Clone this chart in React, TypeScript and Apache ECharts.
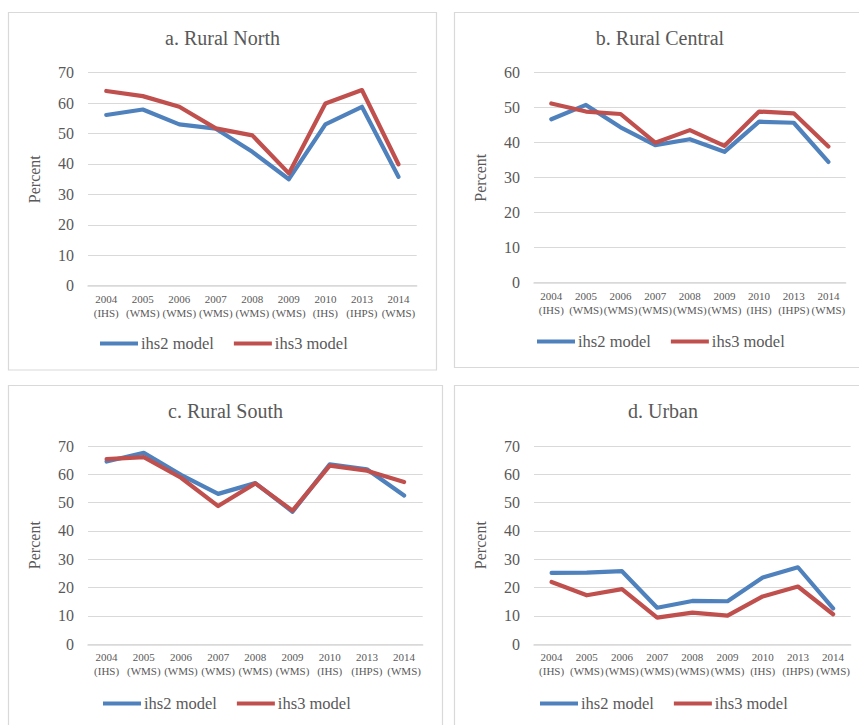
import React, { useEffect, useRef } from "react";
import * as echarts from "echarts";

const categories = [
  "2004\n(IHS)",
  "2005\n(WMS)",
  "2006\n(WMS)",
  "2007\n(WMS)",
  "2008\n(WMS)",
  "2009\n(WMS)",
  "2010\n(IHS)",
  "2013\n(IHPS)",
  "2014\n(WMS)",
];

const panelTitles = ["a. Rural North", "b. Rural Central", "c. Rural South", "d. Urban"];
const seriesNames = ["ihs2 model", "ihs3 model"];

const northIhs2 = [56.1, 57.9, 53.0, 51.6, 44.0, 35.0, 53.0, 58.8, 35.8];
const northIhs3 = [64.0, 62.3, 58.8, 51.7, 49.4, 36.9, 59.9, 64.3, 39.9];

const centralIhs2 = [46.7, 50.8, 44.4, 39.3, 41.0, 37.4, 46.0, 45.7, 34.5];
const centralIhs3 = [51.2, 48.9, 48.2, 40.0, 43.6, 39.1, 48.9, 48.4, 38.9];

const southIhs2 = [64.5, 67.6, 59.8, 53.1, 56.9, 46.8, 63.5, 61.8, 52.5];
const southIhs3 = [65.4, 66.1, 58.8, 48.8, 56.8, 47.2, 63.1, 61.3, 57.3];

const urbanIhs2 = [25.2, 25.3, 25.8, 12.9, 15.3, 15.2, 23.6, 27.2, 12.7];
const urbanIhs3 = [22.0, 17.3, 19.5, 9.4, 11.2, 10.1, 16.9, 20.4, 10.6];

const yMax = [70, 60, 70, 70];

const panelData = [
  [northIhs2, northIhs3],
  [centralIhs2, centralIhs3],
  [southIhs2, southIhs3],
  [urbanIhs2, urbanIhs3],
];

const BLUE = "#4F81BD";
const RED = "#C0504D";
const TEXT = "#595959";
const GRIDC = "#d9d9d9";
const FONT = "Liberation Serif";

export default function App() {
  const ref = useRef<HTMLDivElement>(null);

  useEffect(() => {
    if (!ref.current) return;
    const chart = echarts.init(ref.current, undefined, { renderer: "svg" });

    const grids = [
      { left: 88, top: 72.7, width: 328.7, height: 213 },
      { left: 534, top: 72.7, width: 311.7, height: 210 },
      { left: 88, top: 446, width: 334.7, height: 198.3 },
      { left: 534, top: 446, width: 316.7, height: 198.3 },
    ];

    const boxes = [
      { x: 8.5, y: 12.5, w: 428, h: 357.5 },
      { x: 454.5, y: 12.5, w: 420, h: 355 },
      { x: 8.5, y: 385.5, w: 434, h: 400 },
      { x: 454.5, y: 385.5, w: 420, h: 400 },
    ];

    const titleCenters = [
      { x: 222.5, y: 39 },
      { x: 660, y: 39 },
      { x: 225.5, y: 412 },
      { x: 663, y: 412 },
    ];

    const legendPos = [
      { x: 100, y: 344 },
      { x: 537, y: 342 },
      { x: 103, y: 704 },
      { x: 540, y: 704 },
    ];

    const colors = [BLUE, RED];

    const series: any[] = [];
    panelData.forEach((pair, gi) => {
      pair.forEach((vals, si) => {
        series.push({
          type: "line",
          name: seriesNames[si],
          xAxisIndex: gi,
          yAxisIndex: gi,
          data: vals,
          symbol: "none",
          lineStyle: { color: colors[si], width: 4.2, cap: "round", join: "round" },
          itemStyle: { color: colors[si] },
          z: si === 0 ? 2 : 3,
        });
      });
    });

    const option: any = {
      animation: false,
      backgroundColor: "#ffffff",
      textStyle: { fontFamily: FONT },
      title: titleCenters.map((t, i) => ({
        text: panelTitles[i],
        left: t.x,
        top: t.y - 11,
        padding: 0,
        textAlign: "center",
        textStyle: { fontFamily: FONT, fontSize: 20, fontWeight: "normal", color: TEXT },
      })),
      legend: legendPos.map((p) => ({
        data: seriesNames,
        left: p.x,
        top: p.y - 9,
        padding: 0,
        itemWidth: 38,
        itemHeight: 4,
        itemGap: 20,
        icon: "rect",
        selectedMode: false,
        textStyle: { fontFamily: FONT, fontSize: 16.5, color: TEXT, padding: [0, 0, 0, -2] },
      })),
      grid: grids.map((g) => ({ ...g, containLabel: false })),
      xAxis: grids.map((_, i) => ({
        type: "category",
        gridIndex: i,
        data: categories,
        boundaryGap: true,
        axisLine: { show: true, lineStyle: { color: GRIDC, width: 1.5 } },
        axisTick: { show: false },
        axisLabel: {
          interval: 0,
          margin: 6,
          fontFamily: FONT,
          fontSize: 11,
          lineHeight: 14,
          color: TEXT,
        },
      })),
      yAxis: grids.map((_, i) => ({
        type: "value",
        gridIndex: i,
        min: 0,
        max: yMax[i],
        interval: 10,
        name: "Percent",
        nameLocation: "middle",
        nameRotate: 90,
        nameGap: 46,
        nameTextStyle: { fontFamily: FONT, fontSize: 16, color: TEXT },
        axisLine: { show: false },
        axisTick: { show: false },
        axisLabel: { margin: 14, fontFamily: FONT, fontSize: 16, color: TEXT },
        splitLine: { show: true, lineStyle: { color: GRIDC, width: 1 } },
      })),
      graphic: boxes.map((b) => ({
        type: "rect",
        shape: { x: b.x, y: b.y, width: b.w, height: b.h },
        style: { fill: "none", stroke: GRIDC, lineWidth: 1.2 },
        silent: true,
        z: -1,
      })),
      series,
    };

    chart.setOption(option);
    return () => {
      chart.dispose();
    };
  }, []);

  return (
    <div
      ref={ref}
      style={{ position: "absolute", left: 0, top: 0, width: 859, height: 725 }}
    />
  );
}
